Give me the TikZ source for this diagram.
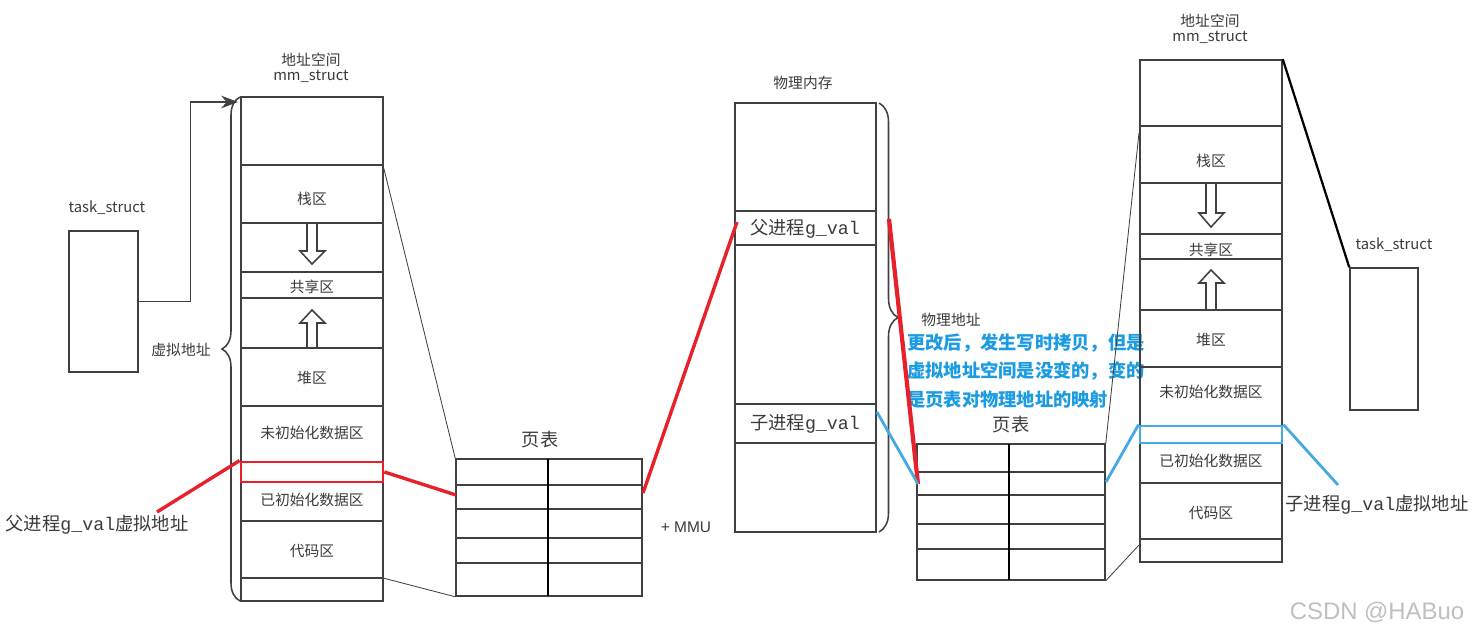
\documentclass[tikz,border=0pt]{standalone}
\usepackage{fontspec}
\setmainfont{Noto Sans CJK SC}
\newfontfamily\gvfont{Liberation Mono}
\newfontfamily\wmfont{Liberation Sans}
\usetikzlibrary{arrows,arrows.meta,decorations.pathreplacing}
\definecolor{lc}{HTML}{404040}
\definecolor{tc}{HTML}{3A3A3A}
\definecolor{cred}{HTML}{E8202A}
\definecolor{cblue}{HTML}{45AAE2}
\definecolor{tblue}{HTML}{1A9BE2}

\begin{document}
\begin{tikzpicture}[x=0.25mm,y=-0.25mm,>=stealth,text=tc,
      font=\fontsize{10.5}{13}\selectfont,
      col/.style={draw=lc,line width=1.1pt,minimum width=35.5mm,inner sep=0pt},
      tbox/.style={draw=lc,line width=1.1pt,inner sep=0pt},
      row/.style={lc,line width=1.1pt},
      thin/.style={lc,line width=0.6pt},
      big/.style={font=\fontsize{13}{15}\selectfont},
      redl/.style={cred,line width=2.4pt},
      bluel/.style={cblue,line width=2pt}]
    \useasboundingbox (0,0) rectangle (1481,640);
    % --- parent: task_struct + mm_struct ---
    \node[tbox,minimum width=17.25mm,minimum height=35.25mm] (ts1) at (103.5,301.5) {};
    \node (ts1lbl) at (107,208) {task\_struct};
    \node[col,minimum height=126mm] (mm1) at (312,349) {};
    \node[align=center] (mm1lbl) at (311,68) {地址空间\\[-2pt]mm\_struct};
    \foreach \y in {165,223,272,298,348,406,521,578} \draw[row] (241,\y) -- (383,\y);
    \node (stk1) at (312,199) {栈区};
    \node (shr1) at (312,287) {共享区};
    \node (heap1) at (312,378) {堆区};
    \node (bss1) at (312,433) {未初始化数据区};
    \node (dat1) at (312,500) {已初始化数据区};
    \node (code1) at (312,551) {代码区};
    \draw[row] (307,223) -- ++(0,28) -- ++(-7,0) -- ++(12,13) -- ++(13,-13) -- ++(-8,0) -- ++(0,-28);
    \draw[row] (307,348) -- ++(0,-25) -- ++(-7,0) -- ++(12,-13) -- ++(13,13) -- ++(-8,0) -- ++(0,25);
    \node[draw=cred,line width=2pt,minimum width=35.5mm,minimum height=5mm,inner sep=0pt] (rv1) at (312,472) {};
    \draw[decorate,decoration={brace,amplitude=4.5mm},row] (240,601) -- (240,97);
    \coordinate (mm1in) at (238,102);
    \draw[-{Stealth[length=12pt,width=9pt]},lc,line width=0.8pt] (ts1.east) -- ++(52,0) |- (mm1in);
    \node (vlbl) at (181,350) {虚拟地址};
    \node[big] (plbl) at (97,525) {父进程{\gvfont g\_val}虚拟地址};
    % --- page table 1 ---
    \node[tbox,minimum width=46.5mm,minimum height=34.25mm] (pt1) at (549,527.5) {};
    \foreach \y in {485,509,538,563} \draw[row] (456,\y) -- (642,\y);
    \draw[line width=2pt] (548,459) -- (548,596);
    \node[big] (pt1lbl) at (540,440) {页表};
    \node[font=\wmfont\fontsize{11}{13}\selectfont] (mmu) at (686,527) {+ MMU};
    \coordinate (s1a) at (383,165);
    \coordinate (s1b) at (383,578);
    \draw[thin] (s1a) -- (pt1.north west);
    \draw[thin] (s1b) -- (pt1.south west);
    \coordinate (pltip) at (157,512);
    \coordinate (pt1in) at (456,495);
    \coordinate (pt1out) at (643,493);
    \draw[redl] (pltip) -- (rv1.north west);
    \draw[redl] (rv1.east) -- (pt1in);
    % --- physical memory ---
    \node[col,minimum width=35.25mm,minimum height=107.25mm] (pm) at (805.5,317.5) {};
    \node (pmlbl) at (803,83) {物理内存};
    \foreach \y in {211,245,404,443} \draw[row] (735,\y) -- (876,\y);
    \node[big] (pf) at (805,229) {父进程{\gvfont g\_val}};
    \node[big] (pc) at (805,424) {子进程{\gvfont g\_val}};
    \draw[redl] (pt1out) -- (737,222);
    \draw[decorate,decoration={brace,amplitude=4.75mm},row] (879,103) -- (879,532);
    \node (phlbl) at (951,320) {物理地址};
    \node[align=left,text=tblue,font=\bfseries\fontsize{13}{20}\selectfont] (note) at (1026,371)
      {更改后，发生写时拷贝，但是\\虚拟地址空间是没变的，变的\\是页表对物理地址的映射};
    % --- page table 2 ---
    \node[tbox,minimum width=47mm,minimum height=34mm] (pt2) at (1011,512) {};
    \foreach \y in {472,495,524,549} \draw[row] (917,\y) -- (1105,\y);
    \draw[line width=2pt] (1009,444) -- (1009,580);
    \node[big] (pt2lbl) at (1011,425) {页表};
    \coordinate (pt2in) at (918,484);
    \coordinate (pt2out) at (1106,482);
    \draw[redl,line width=3pt] (889,219) -- (pt2in);
    \draw[bluel] (877,412) -- (pt2in);
    % --- child: mm_struct + task_struct ---
    \node[col,minimum height=125.5mm] (mm2) at (1211,311) {};
    \node[align=center] (mm2lbl) at (1210,29) {地址空间\\[-2pt]mm\_struct};
    \foreach \y in {126,183,234,259,310,367,483,539} \draw[row] (1140,\y) -- (1282,\y);
    \node (stk2) at (1211,161) {栈区};
    \node (shr2) at (1211,250) {共享区};
    \node (heap2) at (1211,340) {堆区};
    \node (bss2) at (1211,392) {未初始化数据区};
    \node (dat2) at (1211,461) {已初始化数据区};
    \node (code2) at (1211,513) {代码区};
    \draw[row] (1206,183) -- ++(0,30) -- ++(-7,0) -- ++(12,14) -- ++(13,-14) -- ++(-8,0) -- ++(0,-30);
    \draw[row] (1206,310) -- ++(0,-27) -- ++(-7,0) -- ++(12,-13) -- ++(13,13) -- ++(-8,0) -- ++(0,27);
    \node[draw=cblue,line width=2pt,minimum width=35.5mm,minimum height=4.25mm,inner sep=0pt] (bv2) at (1211,434.5) {};
    \coordinate (s2a) at (1139,133);
    \coordinate (s2b) at (1139,545);
    \draw[thin] (pt2.north east) -- (s2a);
    \draw[thin] (pt2.south east) -- (s2b);
    \draw[bluel] (pt2out) -- (bv2.north west);
    \coordinate (cltip) at (1338,485);
    \draw[bluel] (bv2.north east) -- (cltip);
    \node[big] (clbl) at (1377,505) {子进程{\gvfont g\_val}虚拟地址};
    \node[tbox,minimum width=17mm,minimum height=35.5mm] (ts2) at (1384,339) {};
    \node (ts2lbl) at (1394,245) {task\_struct};
    \draw[black,line width=1.6pt] (mm2.north east) -- (ts2.north west);
    % watermark
    \node[font=\wmfont\fontsize{17}{20}\selectfont,text=black!25] (wm) at (1377,612) {CSDN @HABuo};
  \end{tikzpicture}
\end{document}
